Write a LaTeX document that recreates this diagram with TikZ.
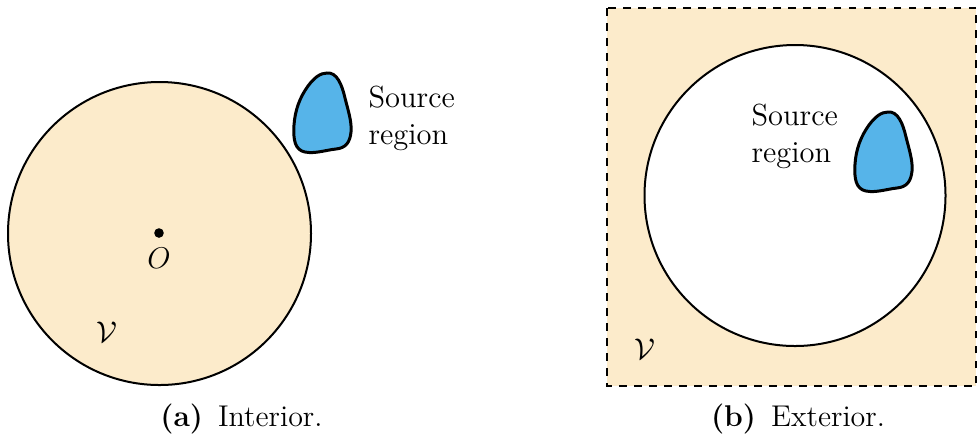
\documentclass[tikz,border=0pt]{standalone}
\usepackage{amsmath}
\begin{document}
\begin{tikzpicture}[x=0.4pt,y=-0.4pt,
  blob/.style={fill=skyblue,draw=black,line width=1.2pt},
  lbl/.style={font=\fontsize{12.2}{14.6}\selectfont,inner sep=0pt},
  srclbl/.style={lbl,align=left,anchor=north west},
  caplbl/.style={font=\fontsize{12}{14}\selectfont,inner sep=0pt,anchor=base}]
\definecolor{beige}{HTML}{FCEBCB}
\definecolor{skyblue}{HTML}{56B4E9}
\useasboundingbox (0,0) rectangle (977,442);
\def\blobpath{(327,73) .. controls (337,72) and (342,85) .. (345,98)
 .. controls (348,110) and (352,122) .. (351,132)
 .. controls (350,142) and (346,148) .. (336,149)
 .. controls (326,150) and (315,154) .. (305,152)
 .. controls (295,150) and (293,140) .. (294,125)
 .. controls (295,110) and (300,97) .. (308,86)
 .. controls (314,78) and (320,73) .. (327,73) -- cycle}
% (a) interior
\fill[beige] (159.5,233.5) circle[radius=151.5];
\draw[line width=0.8pt] (159.5,233.5) circle[radius=151.5];
\fill (159,233) circle[radius=4.8];
\node[lbl] (O) at (159,258) {$O$};
\node[lbl] (Va) at (107,332) {$\mathcal{V}$};
\draw[blob] \blobpath;
\node[srclbl] (sa) at (368,86) {Source\\region};
\node[caplbl] (capa) at (241.5,426) {\textbf{(a)}\enspace Interior.};
% (b) exterior
\fill[beige] (607,8) rectangle (976,386);
\draw[dashed,line width=0.8pt] (607,8) rectangle (976,386);
\draw[fill=white,line width=0.8pt] (795,195.5) circle[radius=150.5];
\begin{scope}[shift={(561,39)}]
\draw[blob] \blobpath;
\end{scope}
\node[srclbl] (sb) at (751,104) {Source\\region};
\node[lbl] (Vb) at (645,349) {$\mathcal{V}$};
\node[caplbl] (capb) at (798,426) {\textbf{(b)}\enspace Exterior.};
\end{tikzpicture}
\end{document}
